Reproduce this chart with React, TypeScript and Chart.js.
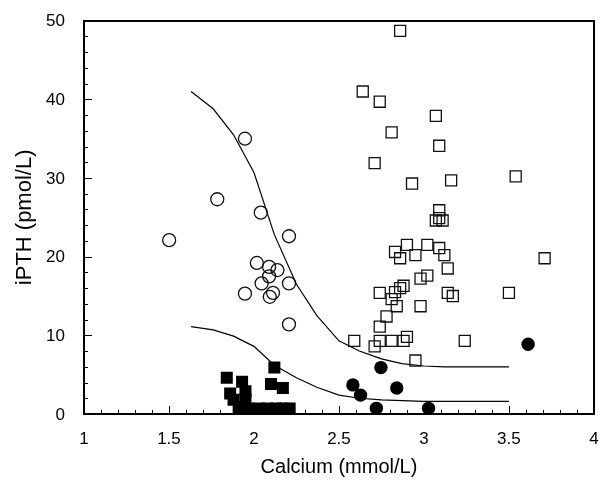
import React, { useEffect, useRef } from "react";
import { Chart, registerables } from "chart.js";

Chart.register(...registerables);

// Open circles
const openCircleX = [1.947, 1.784, 2.04, 1.501, 2.206, 2.017, 2.089, 2.138, 2.089, 2.045, 2.206, 1.947, 2.112, 2.093, 2.206];
const openCircleY = [35.0, 27.3, 25.6, 22.1, 22.6, 19.2, 18.7, 18.3, 17.5, 16.6, 16.6, 15.3, 15.4, 14.9, 11.4];

// Filled squares
const filledSquareX = [1.84, 1.93, 1.95, 1.86, 1.88, 1.95, 2.12, 2.10, 2.17, 1.91, 1.97, 2.03, 2.08, 2.13, 2.17, 2.21, 1.93];
const filledSquareY = [4.6, 4.1, 2.9, 2.6, 1.8, 1.9, 5.9, 3.8, 3.3, 0.7, 0.7, 0.7, 0.7, 0.7, 0.7, 0.7, 0.9];

// Open squares
const openSquareX = [2.86, 2.64, 2.74, 3.07, 2.81, 3.09, 2.71, 2.93, 3.16, 3.54, 3.09, 3.07, 3.11, 3.09, 3.71, 2.83, 2.86, 2.90, 2.95, 3.02, 3.09, 3.12, 3.14, 2.98, 3.02, 2.74, 2.81, 2.84, 2.83, 2.86, 2.88, 2.98, 3.14, 3.17, 3.50, 2.78, 2.74, 2.59, 2.74, 2.81, 2.88, 2.90, 2.71, 3.24, 2.95];
const openSquareY = [48.7, 41.0, 39.7, 37.9, 35.8, 34.1, 31.9, 29.3, 29.7, 30.2, 25.9, 24.6, 24.6, 24.9, 19.8, 20.6, 19.8, 21.5, 20.2, 21.5, 21.1, 20.2, 18.5, 17.2, 17.6, 15.4, 14.6, 13.7, 15.5, 16.0, 16.3, 13.7, 15.4, 15.0, 15.4, 12.4, 11.1, 9.3, 9.3, 9.3, 9.3, 9.8, 8.6, 9.3, 6.8];

// Filled circles
const filledCircleX = [2.747, 2.582, 2.627, 2.84, 2.72, 3.027, 3.613];
const filledCircleY = [5.9, 3.7, 2.4, 3.3, 0.72, 0.72, 8.86];

// Upper curve
const upperCurveX = [1.63, 1.76, 1.88, 2.0, 2.12, 2.25, 2.37, 2.5, 2.62, 2.75, 2.87, 3.0, 3.12, 3.25, 3.5];
const upperCurveY = [41.0, 38.8, 35.5, 30.7, 22.8, 16.5, 12.5, 9.3, 8.0, 7.0, 6.4, 6.1, 6.0, 6.0, 6.0];

// Lower curve
const lowerCurveX = [1.63, 1.76, 1.88, 2.0, 2.12, 2.25, 2.37, 2.5, 2.62, 2.75, 2.87, 3.0, 3.25, 3.5];
const lowerCurveY = [11.1, 10.7, 9.9, 8.6, 6.2, 4.6, 3.4, 2.4, 2.0, 1.8, 1.7, 1.6, 1.6, 1.6];

const xMajorTicks = [1, 1.5, 2, 2.5, 3, 3.5, 4];
const xTickLabels = ["1", "1.5", "2", "2.5", "3", "3.5", "4"];
const yMajorTicks = [0, 10, 20, 30, 40, 50];
const yTickLabels = ["0", "10", "20", "30", "40", "50"];

const pts = (xs: number[], ys: number[]) => xs.map((x, i) => ({ x, y: ys[i] }));

const FONT = "'Liberation Sans', Arial, sans-serif";

export default function App() {
  const ref = useRef<HTMLCanvasElement>(null);
  useEffect(() => {
    if (!ref.current) return;
    const frameTicksPlugin = {
      id: "frameTicks",
      afterDraw(chart: any) {
        const ctx = chart.ctx;
        const area = chart.chartArea;
        const sx = chart.scales.x;
        const sy = chart.scales.y;
        const L = Math.round(area.left);
        const T = Math.round(area.top);
        const R = Math.round(area.right);
        const B = Math.round(area.bottom);
        ctx.save();
        ctx.fillStyle = "#000";
        // inward ticks on x axis (every 0.1, major every 0.5)
        for (let i = 0; i <= 30; i++) {
          const v = 1 + i * 0.1;
          const px = Math.round(sx.getPixelForValue(v));
          const len = i % 5 === 0 ? 8 : 4;
          ctx.fillRect(px, B - len, 1, len);
        }
        // inward ticks on y axis (every 2, major every 10)
        for (let i = 0; i <= 25; i++) {
          const v = i * 2;
          const py = Math.round(sy.getPixelForValue(v));
          const len = v % 10 === 0 ? 8 : 4;
          ctx.fillRect(L, py, len, 1);
        }
        // frame, 2px
        ctx.fillRect(L - 1, T - 1, R - L + 2, 2);
        ctx.fillRect(L - 1, B - 1, R - L + 2, 2);
        ctx.fillRect(L - 1, T - 1, 2, B - T + 2);
        ctx.fillRect(R - 1, T - 1, 2, B - T + 2);
        // tick labels
        ctx.font = `17px ${FONT}`;
        ctx.textAlign = "center";
        ctx.textBaseline = "middle";
        xMajorTicks.forEach((v, i) => {
          ctx.fillText(xTickLabels[i], sx.getPixelForValue(v), B + 25);
        });
        ctx.textAlign = "right";
        yMajorTicks.forEach((v, i) => {
          ctx.fillText(yTickLabels[i], L - 19, sy.getPixelForValue(v) + 1);
        });
        ctx.restore();
      },
    };
    const chart = new Chart(ref.current, {
      type: "scatter",
      data: {
        datasets: [
          {
            type: "line",
            data: pts(upperCurveX, upperCurveY),
            borderColor: "#000",
            borderWidth: 1.2,
            pointRadius: 0,
            fill: false,
            tension: 0,
          } as any,
          {
            type: "line",
            data: pts(lowerCurveX, lowerCurveY),
            borderColor: "#000",
            borderWidth: 1.2,
            pointRadius: 0,
            fill: false,
            tension: 0,
          } as any,
          {
            data: pts(openCircleX, openCircleY),
            pointStyle: "circle",
            pointRadius: 6.5,
            pointBorderWidth: 1.3,
            pointBorderColor: "#111",
            pointBackgroundColor: "rgba(255,255,255,0)",
          },
          {
            data: pts(filledSquareX, filledSquareY),
            pointStyle: "rect",
            pointRadius: 8.5,
            pointBorderWidth: 0,
            pointBorderColor: "#000",
            pointBackgroundColor: "#000",
          },
          {
            data: pts(openSquareX, openSquareY),
            pointStyle: "rect",
            pointRadius: 7.8,
            pointBorderWidth: 1.3,
            pointBorderColor: "#111",
            pointBackgroundColor: "rgba(255,255,255,0)",
          },
          {
            data: pts(filledCircleX, filledCircleY),
            pointStyle: "circle",
            pointRadius: 6.7,
            pointBorderWidth: 0,
            pointBorderColor: "#000",
            pointBackgroundColor: "#000",
          },
        ],
      },
      options: {
        animation: false,
        responsive: false,
        devicePixelRatio: 1,
        layout: { padding: { top: 20.7, right: 4, left: 0, bottom: 0 } },
        plugins: { legend: { display: false }, tooltip: { enabled: false } },
        scales: {
          x: {
            type: "linear",
            min: 1,
            max: 4,
            afterFit: (s: any) => {
              s.height = 68;
              s.paddingLeft = 0;
              s.paddingRight = 0;
            },
            grid: { display: false, drawTicks: false },
            border: { display: true, color: "#000", width: 2 },
            ticks: { display: false },
            title: {
              display: true,
              text: "Calcium (mmol/L)",
              color: "#000",
              font: { family: FONT, size: 20 },
              padding: { top: 0, bottom: 3 },
            },
          },
          y: {
            type: "linear",
            min: 0,
            max: 50,
            afterFit: (s: any) => {
              s.width = 84;
              s.paddingTop = 0;
              s.paddingBottom = 0;
            },
            grid: { display: false, drawTicks: false },
            border: { display: true, color: "#000", width: 2 },
            ticks: { display: false },
            title: {
              display: true,
              text: "iPTH (pmol/L)",
              color: "#000",
              font: { family: FONT, size: 22 },
              padding: { top: 12, bottom: 0 },
            },
          },
        },
      },
      plugins: [frameTicksPlugin],
    });
    return () => chart.destroy();
  }, []);
  return (
    <div style={{ position: "fixed", left: 0, top: 0, width: 603, height: 482, background: "#fff" }}>
      <canvas ref={ref} width={603} height={482} style={{ display: "block" }} />
    </div>
  );
}
